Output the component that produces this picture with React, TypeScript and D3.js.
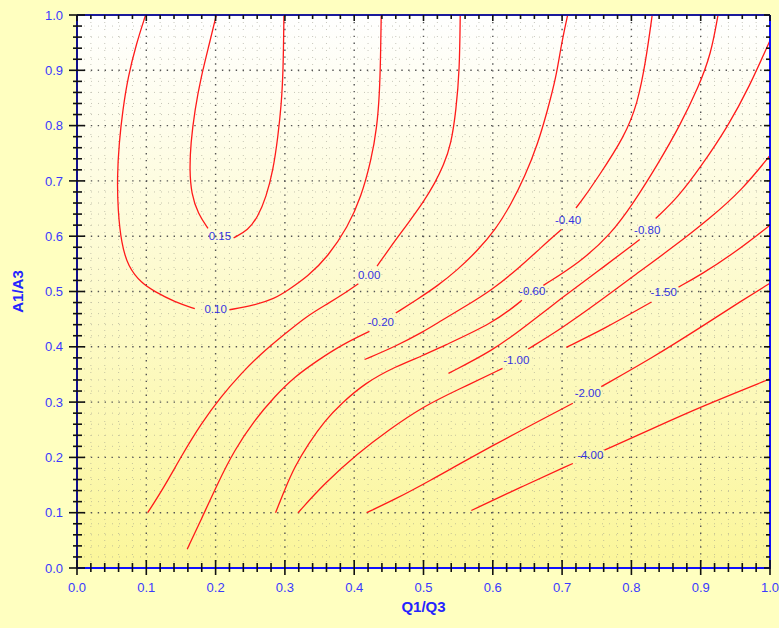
import React from "react";
import * as d3 from "d3";

// contour segments, [Q1/Q3, A1/A3]
const c015a = [[0.201, 1.0], [0.191, 0.948], [0.179, 0.888], [0.17, 0.828], [0.164, 0.767], [0.1625, 0.719], [0.165, 0.677], [0.1745, 0.641], [0.189, 0.614]];
const c015b = [[0.226, 0.597], [0.247, 0.611], [0.261, 0.635], [0.273, 0.671], [0.283, 0.719], [0.29, 0.78], [0.295, 0.84], [0.2976, 0.9], [0.2986, 1.0]];
const c010a = [[0.099, 1.0], [0.0856, 0.948], [0.0736, 0.888], [0.066, 0.828], [0.0606, 0.767], [0.058, 0.707], [0.059, 0.647], [0.064, 0.587], [0.0736, 0.545], [0.093, 0.515], [0.112, 0.5], [0.141, 0.481], [0.17, 0.469]];
const c010b = [[0.22, 0.467], [0.256, 0.475], [0.285, 0.487], [0.304, 0.502], [0.333, 0.527], [0.362, 0.563], [0.391, 0.617], [0.41, 0.671], [0.4245, 0.737], [0.433, 0.798], [0.4365, 0.858], [0.438, 0.918], [0.439, 1.0]];
const c000a = [[0.102, 0.1], [0.126, 0.147], [0.15, 0.201], [0.179, 0.261], [0.208, 0.31], [0.237, 0.352], [0.266, 0.388], [0.2947, 0.418], [0.333, 0.457], [0.362, 0.478], [0.39, 0.5], [0.406, 0.514]];
const c000b = [[0.433, 0.546], [0.455, 0.585], [0.478, 0.624], [0.5, 0.662], [0.516, 0.695], [0.529, 0.728], [0.54, 0.767], [0.547, 0.828], [0.552, 0.9], [0.553, 1.0]];
const cm020a = [[0.159, 0.034], [0.179, 0.087], [0.203, 0.153], [0.227, 0.213], [0.256, 0.267], [0.285, 0.31], [0.314, 0.346], [0.348, 0.376], [0.381, 0.403], [0.422, 0.428]];
const cm020b = [[0.46, 0.461], [0.49, 0.485], [0.52, 0.51], [0.549, 0.539], [0.578, 0.574], [0.604, 0.612], [0.626, 0.657], [0.646, 0.707], [0.665, 0.767], [0.679, 0.828], [0.6915, 0.888], [0.699, 0.948], [0.708, 1.0]];
const cm040a = [[0.415, 0.377], [0.46, 0.401], [0.501, 0.428], [0.524, 0.446], [0.56, 0.473], [0.598, 0.502], [0.639, 0.544], [0.67, 0.58], [0.699, 0.612]];
const cm040b = [[0.72, 0.651], [0.73, 0.667], [0.752, 0.707], [0.79, 0.78], [0.809, 0.84], [0.821, 0.918], [0.83, 1.0]];
const cm060a = [[0.2865, 0.1], [0.2995, 0.141], [0.314, 0.183], [0.334, 0.225], [0.358, 0.267], [0.382, 0.298], [0.415, 0.334], [0.459, 0.364], [0.501, 0.385], [0.524, 0.399], [0.601, 0.443], [0.642, 0.484]];
const cm060b = [[0.673, 0.511], [0.726, 0.553], [0.77, 0.603], [0.803, 0.66], [0.838, 0.73], [0.87, 0.8], [0.897, 0.87], [0.915, 0.93], [0.925, 1.0]];
const cm080a = [[0.536, 0.352], [0.601, 0.394], [0.646, 0.436], [0.699, 0.488], [0.75, 0.535], [0.812, 0.594]];
const cm080b = [[0.835, 0.632], [0.867, 0.67], [0.9, 0.725], [0.94, 0.8], [0.97, 0.87], [1.0, 0.954]];
const cm100a = [[0.319, 0.1], [0.357, 0.153], [0.405, 0.207], [0.45, 0.25], [0.501, 0.293], [0.549, 0.322], [0.614, 0.361]];
const cm100b = [[0.651, 0.396], [0.699, 0.433], [0.754, 0.482], [0.802, 0.527], [0.86, 0.58], [0.913, 0.632], [0.96, 0.684], [1.0, 0.746]];
const cm150a = [[0.706, 0.399], [0.76, 0.432], [0.829, 0.481]];
const cm150b = [[0.868, 0.508], [0.9, 0.53], [0.95, 0.571], [1.0, 0.62]];
const cm200a = [[0.418, 0.1], [0.46, 0.125], [0.501, 0.152], [0.6, 0.222], [0.7155, 0.298]];
const cm200b = [[0.7565, 0.328], [0.83, 0.38], [0.901, 0.436], [0.96, 0.484], [1.0, 0.515]];
const cm400a = [[0.569, 0.104], [0.64, 0.146], [0.7155, 0.189]];
const cm400b = [[0.761, 0.213], [0.83, 0.252], [0.901, 0.292], [1.0, 0.342]];

const levels = ["0.15", "0.10", "0.00", "-0.20", "-0.40", "-0.60", "-0.80", "-1.00", "-1.50", "-2.00", "-4.00"];
const segments = [[c015a, c015b], [c010a, c010b], [c000a, c000b], [cm020a, cm020b], [cm040a, cm040b], [cm060a, cm060b], [cm080a, cm080b], [cm100a, cm100b], [cm150a, cm150b], [cm200a, cm200b], [cm400a, cm400b]];
const labelX = [0.2063, 0.2, 0.4216, 0.4385, 0.7085, 0.6569, 0.8228, 0.6339, 0.8466, 0.7371, 0.7407];
const labelY = [0.6, 0.469, 0.5307, 0.4454, 0.6302, 0.5005, 0.6122, 0.3761, 0.4985, 0.3164, 0.2043];

const W = 779;
const H = 628;
const L = 77, R = 770, T = 15, B = 568;

export default function App() {
  const x = d3.scaleLinear().domain([0, 1]).range([L, R]);
  const y = d3.scaleLinear().domain([0, 1]).range([B, T]);
  const major = d3.range(0, 1.0001, 0.1);
  const minor = d3.range(0, 1.0001, 0.02).filter((v) => Math.abs(v * 10 - Math.round(v * 10)) > 1e-6);
  const fmt = d3.format(".1f");
  const line = d3.line<number[]>()
    .x((d) => x(d[0]))
    .y((d) => y(d[1]))
    .curve(d3.curveBasis);

  const font = "'Liberation Sans', Arial, sans-serif";

  return (
    <svg width={W} height={H} style={{ position: "absolute", left: 0, top: 0 }}>
      <defs>
        <linearGradient id="bg" x1="0" y1="0" x2="0" y2="1">
          <stop offset="0" stopColor="#ffffff" />
          <stop offset="1" stopColor="#fbf69a" />
        </linearGradient>
        <clipPath id="plot">
          <rect x={L} y={T} width={R - L} height={B - T} />
        </clipPath>
      </defs>
      <rect width={W} height={H} fill="#ffffc0" />
      <rect x={L} y={T} width={R - L} height={B - T} fill="url(#bg)" />

      {/* grid */}
      <g stroke="#9a9a8a" strokeWidth={1} strokeDasharray="1,6" opacity={0.55}>
        {minor.map((v) => (
          <line key={"mx" + v} x1={x(v)} x2={x(v)} y1={T} y2={B} />
        ))}
        {minor.map((v) => (
          <line key={"my" + v} x1={L} x2={R} y1={y(v)} y2={y(v)} />
        ))}
      </g>
      <g stroke="#555" strokeWidth={1.4} strokeDasharray="1.4,5.5">
        {major.slice(1, -1).map((v) => (
          <line key={"gx" + v} x1={x(v)} x2={x(v)} y1={T} y2={B} />
        ))}
        {major.slice(1, -1).map((v) => (
          <line key={"gy" + v} x1={L} x2={R} y1={y(v)} y2={y(v)} />
        ))}
      </g>

      {/* contours */}
      <g clipPath="url(#plot)" fill="none" stroke="#ff1a1a" strokeWidth={1.3}>
        {segments.map((segs, i) =>
          segs.map((s, j) => <path key={i + "-" + j} d={line(s) || ""} />)
        )}
      </g>
      <g fontFamily={font} fontSize={11.5} fill="#3434e0" textAnchor="middle">
        {levels.map((lv, i) => (
          <text key={lv} x={x(labelX[i])} y={y(labelY[i])} dy="0.36em">{lv}</text>
        ))}
      </g>

      {/* axes frame */}
      <line x1={L} x2={R} y1={T} y2={T} stroke="#1a1a9a" strokeWidth={2} />
      <line x1={R} x2={R} y1={T} y2={B} stroke="#1010ff" strokeWidth={2} />
      <line x1={L} x2={L} y1={T} y2={B + 1} stroke="#10108a" strokeWidth={2} />
      <line x1={L - 1} x2={R + 1} y1={B} y2={B} stroke="#1010ff" strokeWidth={2} />

      {/* ticks */}
      <g stroke="#111" strokeWidth={1.6}>
        {major.map((v) => (
          <g key={"t" + v}>
            <line x1={x(v)} x2={x(v)} y1={B - 8} y2={B + 7} />
            <line x1={L - 8} x2={L + 8} y1={y(v)} y2={y(v)} />
            <line x1={x(v)} x2={x(v)} y1={T} y2={T + 6} />
            <line x1={R - 6} x2={R} y1={y(v)} y2={y(v)} />
          </g>
        ))}
        {minor.map((v) => (
          <g key={"m" + v}>
            <line x1={x(v)} x2={x(v)} y1={B - 5} y2={B + 4} />
            <line x1={L - 4} x2={L + 5} y1={y(v)} y2={y(v)} />
            <line x1={x(v)} x2={x(v)} y1={T} y2={T + 4} />
            <line x1={R - 4} x2={R} y1={y(v)} y2={y(v)} />
          </g>
        ))}
      </g>

      {/* tick labels */}
      <g fontFamily={font} fontSize={13} fill="#3a3aff">
        {major.map((v) => (
          <text key={"xl" + v} x={x(v)} y={B + 24} textAnchor="middle">{fmt(v)}</text>
        ))}
        {major.map((v) => (
          <text key={"yl" + v} x={L - 14} y={y(v)} dy="0.36em" textAnchor="end">{fmt(v)}</text>
        ))}
      </g>

      <text x={(L + R) / 2} y={612} textAnchor="middle" fontFamily={font} fontSize={15} fontWeight="bold" fill="#2424ff">Q1/Q3</text>
      <text transform={`translate(23,${(T + B) / 2}) rotate(-90)`} textAnchor="middle" fontFamily={font} fontSize={15} fontWeight="bold" fill="#2424ff">A1/A3</text>
    </svg>
  );
}
